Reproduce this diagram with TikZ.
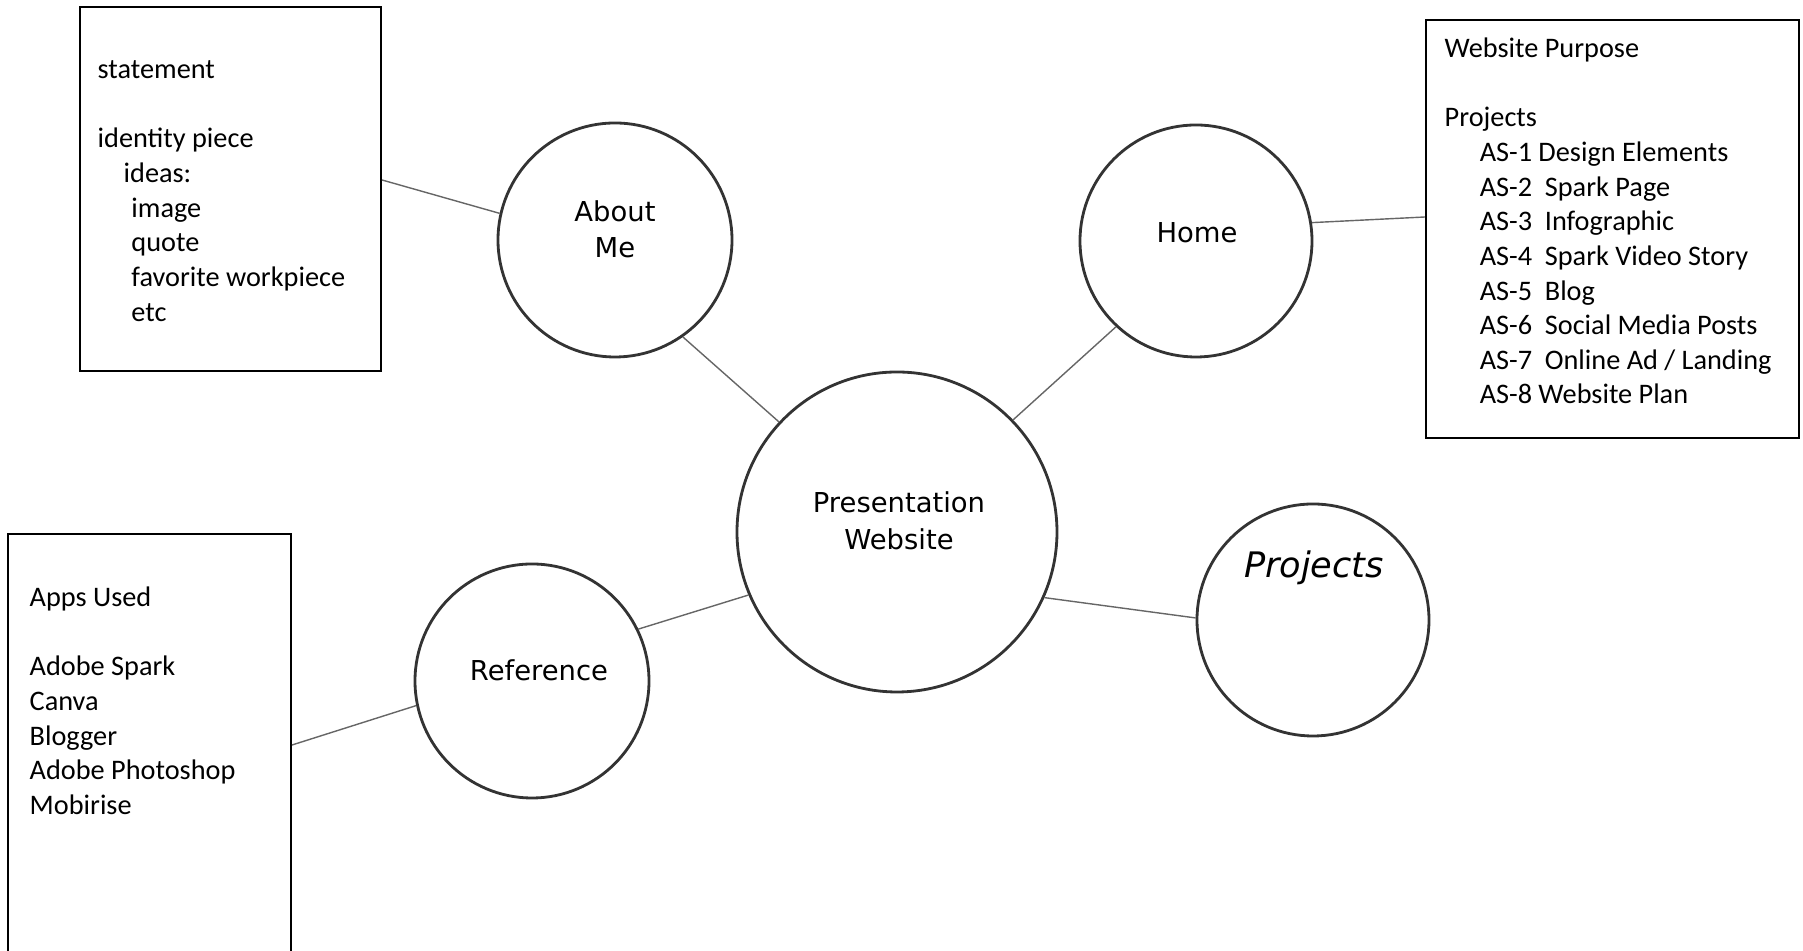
\documentclass[tikz,border=0pt]{standalone}
\usepackage{fontspec}
\setmainfont{Carlito}
\newfontfamily\bubblefont{DejaVu Sans}
\definecolor{ringgray}{HTML}{333333}
\definecolor{linkgray}{HTML}{666666}

\begin{document}
\begin{tikzpicture}[
    bubble/.style={circle,draw=ringgray,line width=0.8pt,inner sep=0pt},
    infobox/.style={rectangle,draw=black,line width=0.6pt,inner sep=0pt},
    boxtext/.style={anchor=north west,inner sep=0pt,align=left,font=\fontsize{8.05}{9.85}\selectfont},
    bubbletext/.style={inner sep=0pt,align=center,font=\bubblefont\fontsize{7.8}{10.4}\selectfont},
    link/.style={draw=linkgray,line width=0.4pt}
]
    \useasboundingbox (0,0) rectangle (18.03,-9.51);
    \node[infobox,minimum width=3.01cm,minimum height=3.64cm] (tlbox) at (2.305,-1.89) {};
    \node[infobox,minimum width=3.73cm,minimum height=4.18cm] (trbox) at (16.125,-2.29) {};
    \node[infobox,minimum width=2.83cm,minimum height=4.36cm] (blbox) at (1.495,-7.52) {};
    \node[boxtext] (tltext) at (0.97,-0.538) {\strut statement\\[9.85pt]identity piece\\\hspace*{7.4pt}ideas:\\\hspace*{9.6pt}image\\\hspace*{9.6pt}quote\\\hspace*{9.6pt}favorite workpiece\\\hspace*{9.6pt}etc};
    \node[boxtext] (trtext) at (14.44,-0.328) {\strut Website Purpose\\[9.85pt]Projects\\\hspace*{10pt}AS-1 Design Elements\\\hspace*{10pt}AS-2\ \ Spark Page\\\hspace*{10pt}AS-3\ \ Infographic\\\hspace*{10pt}AS-4\ \ Spark Video Story\\\hspace*{10pt}AS-5\ \ Blog\\\hspace*{10pt}AS-6\ \ Social Media Posts\\\hspace*{10pt}AS-7\ \ Online Ad / Landing\\\hspace*{10pt}AS-8 Website Plan};
    \node[boxtext] (bltext) at (0.29,-5.818) {\strut Apps Used\\[9.85pt]Adobe Spark\\Canva\\Blogger\\Adobe Photoshop\\Mobirise};
    \node[bubble,minimum size=2.34cm] (aboutme) at (6.15,-2.40) {};
    \node[bubble,minimum size=2.32cm] (home) at (11.96,-2.41) {};
    \node[bubble,minimum size=3.20cm] (pres) at (8.97,-5.32) {};
    \node[bubble,minimum size=2.34cm] (reference) at (5.32,-6.81) {};
    \node[bubble,minimum size=2.32cm] (projects) at (13.13,-6.20) {};
    \node[bubbletext] (aboutmetext) at (6.15,-2.295) {About\\Me};
    \node[bubbletext,anchor=base] (hometext) at (11.97,-2.43) {Home};
    \node[bubbletext] (prestext) at (8.99,-5.21) {Presentation\\Website};
    \node[bubbletext,anchor=base] (referencetext) at (5.39,-6.81) {Reference};
    \node[bubbletext,anchor=base,font=\bubblefont\fontsize{10}{12}\selectfont\itshape] (projectstext) at (13.14,-5.78) {Projects};
    \draw[link] ([yshift=0.09cm]tlbox.east) -- (aboutme.167);
    \draw[link] (aboutme.305) -- (pres.137);
    \draw[link] (home.227) -- (pres.44);
    \draw[link] (home.9) -- ([yshift=0.12cm]trbox.west);
    \draw[link] (pres.203) -- (reference.26);
    \draw[link] (reference.192) -- ([yshift=0.07cm]blbox.east);
    \draw[link] (pres.336) -- (projects.179);
\end{tikzpicture}
\end{document}
